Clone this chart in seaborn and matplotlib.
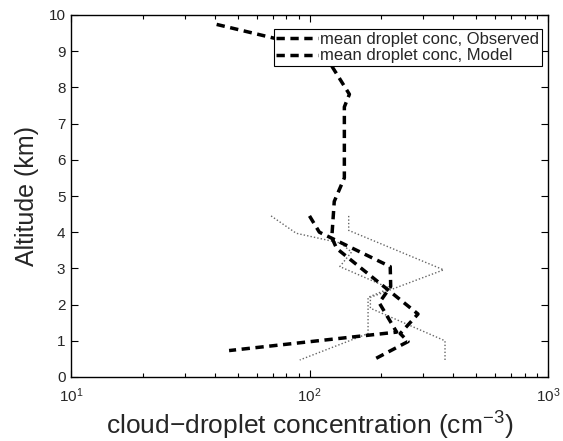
import numpy as np
import pandas as pd
import seaborn as sns
import matplotlib.pyplot as plt
from matplotlib.ticker import LogLocator, LogFormatterMathtext

# mean profiles (conc in cm^-3, altitude in km)
obs_conc = [40.8, 69, 95, 121, 147, 140, 140, 127, 124, 130, 285, 240, 259, 187]
obs_alt = [9.74, 9.38, 9.15, 8.7, 7.81, 7.46, 5.5, 4.85, 3.85, 3.55, 1.74, 1.2, 0.98, 0.49]
mod_conc = [100, 110, 218, 219, 196, 232, 46]
mod_alt = [4.45, 4.0, 3.05, 2.5, 2.05, 1.24, 0.73]

# spread (dotted)
lo_conc = [69, 88, 135, 150, 134, 217, 176, 176, 91]
lo_alt = [4.45, 3.97, 3.7, 3.45, 3.05, 2.45, 2.2, 1.2, 0.47]
hi_conc = [146, 146, 365, 180, 180, 370, 370]
hi_alt = [4.45, 4.05, 2.96, 2.2, 1.9, 1.0, 0.47]

sns.set_style("ticks")
plt.rcParams['font.family'] = ['Liberation Sans', 'DejaVu Sans']
plt.rcParams['mathtext.fontset'] = 'custom'
plt.rcParams['mathtext.rm'] = 'Liberation Sans'
plt.rcParams['mathtext.it'] = 'Liberation Sans:italic'

fig = plt.figure(figsize=(5.63, 4.41), dpi=100)
ax = fig.add_axes([71 / 563, 64 / 441, 477 / 563, 362 / 441])

def prof(x, y):
    return pd.DataFrame({"conc": x, "alt": y})

for x, y in [(lo_conc, lo_alt), (hi_conc, hi_alt)]:
    sns.lineplot(data=prof(x, y), x="conc", y="alt", sort=False, estimator=None,
                 color="#666666", lw=1.0, linestyle=(0, (1, 1.5)), ax=ax)

sns.lineplot(data=prof(obs_conc, obs_alt), x="conc", y="alt", sort=False, estimator=None,
             color="black", lw=2.5, linestyle=(0, (2.4, 1.6)), ax=ax,
             label="mean droplet conc, Observed")
sns.lineplot(data=prof(mod_conc, mod_alt), x="conc", y="alt", sort=False, estimator=None,
             color="black", lw=2.5, linestyle=(0, (2.4, 1.6)), ax=ax,
             label="mean droplet conc, Model")

ax.set_xscale("log")
ax.set_xlim(10, 1000)
ax.set_ylim(0, 10)
ax.set_yticks(range(0, 11))
ax.xaxis.set_major_locator(LogLocator(base=10))
ax.xaxis.set_major_formatter(LogFormatterMathtext())
ax.xaxis.set_minor_locator(LogLocator(base=10, subs=np.arange(2, 10)))

ax.tick_params(which="both", direction="in", top=True, right=True,
               labelsize=11, width=0.8, color="black")
ax.tick_params(which="major", length=5, pad=4)
ax.tick_params(axis="x", which="major", pad=7)
ax.tick_params(which="minor", length=3)
for s in ax.spines.values():
    s.set_linewidth(1.0)
    s.set_color("black")

ax.set_xlabel("cloud\u2212droplet concentration (cm$^{\u22123}$)", fontsize=19, labelpad=3)
ax.set_ylabel("Altitude (km)", fontsize=18, labelpad=7)

leg = ax.legend(loc="upper right", bbox_to_anchor=(0.9868, 0.9605), borderaxespad=0,
                fontsize=12, frameon=True, fancybox=False, handlelength=2.5,
                handletextpad=0.15, borderpad=0.15, labelspacing=0.1, framealpha=1)
leg.get_frame().set_edgecolor("black")
leg.get_frame().set_linewidth(0.8)
leg.set_zorder(10)

fig.savefig("out.png", dpi=100)
